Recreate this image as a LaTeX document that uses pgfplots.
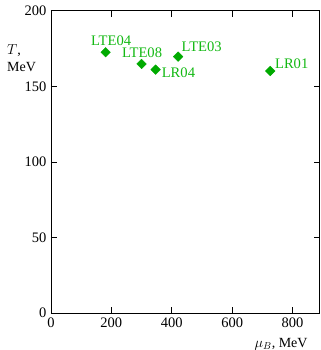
\documentclass[border=0pt]{standalone}
\usepackage{pgfplots}
\usepackage{pgfplotstable}
\pgfplotsset{compat=1.18}
\usepackage{fontspec}
\setmainfont{Liberation Serif}
\definecolor{ptgreen}{RGB}{0,170,0}
\definecolor{lblgreen}{RGB}{20,185,20}
\pgfplotstableread{
x y label dx dy
181 172.5 LTE04 -14.7 6.3
300 164.8 LTE08 -19.7 6.3
346.6 161 LR04 6 -7.6
421 169.6 LTE03 3.4 5
726 160.1 LR01 4.7 2.7
}\pts
\begin{document}
\begin{tikzpicture}
\begin{axis}[
  at={(0,0)}, anchor=south west,
  scale only axis,
  width=269pt, height=302.6pt,
  xmin=0, xmax=890, ymin=0, ymax=200,
  xtick={0,200,400,600,800},
  ytick={0,50,100,150,200},
  tick align=inside,
  major tick length=6pt,
  tick style={black, line width=0.6pt},
  axis line style={black, line width=0.8pt},
  /pgf/number format/assume math mode=true,
  ticklabel style={font=\fontsize{14.5}{16}\selectfont},
  xticklabel style={yshift=-1pt},
  yticklabel style={xshift=-1pt},
  clip=false,
]
\addplot[only marks, mark=square*, mark size=3.4pt,
  mark options={rotate=45, fill=ptgreen, draw=ptgreen},
  point meta=explicit symbolic,
  visualization depends on={\thisrow{dx}\as\dx},
  visualization depends on={\thisrow{dy}\as\dy},
  nodes near coords,
  nodes near coords style={anchor=base west, inner sep=0pt,
    xshift=\dx pt, yshift=\dy pt, text=lblgreen,
    font=\fontsize{14.6}{16}\selectfont},
] table[x=x, y=y, meta=label] {\pts};
\node[anchor=north west, align=left, inner sep=0pt,
  font=\fontsize{14}{17}\selectfont]
  at ([xshift=-44pt, yshift=-34pt]rel axis cs:0,1) {$T$,\\MeV};
\node[anchor=base east, inner sep=0pt,
  font=\fontsize{14}{16}\selectfont]
  at ([xshift=257pt, yshift=-34pt]rel axis cs:0,0) {$\mu_B$, MeV};
\end{axis}
\pgfresetboundingbox
\path[use as bounding box] (-51pt,-37pt) rectangle (270pt,313.3pt);
\end{tikzpicture}
\end{document}
